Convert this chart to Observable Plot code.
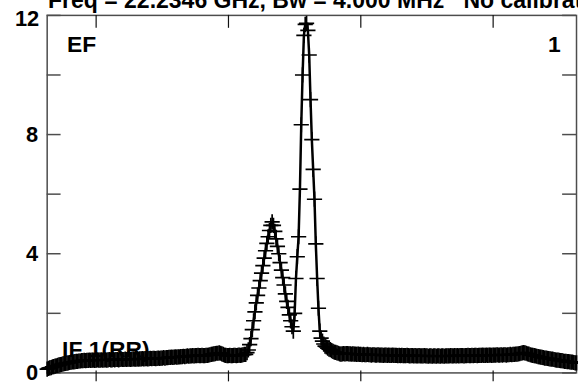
<!DOCTYPE html>
<html><head><meta charset="utf-8">
<script src="https://cdn.jsdelivr.net/npm/d3@7"></script>
<script src="https://cdn.jsdelivr.net/npm/@observablehq/plot@0.6"></script>
<style>
html,body{margin:0;padding:0;background:#fff;overflow:hidden;width:578px;height:384px;}
#wrap{position:relative;width:578px;height:384px;overflow:hidden;}
#chart{position:absolute;left:0;top:0;}
#title{position:absolute;left:48px;top:-11px;font:bold 23px "Liberation Sans",Arial,sans-serif;line-height:23px;white-space:pre;color:#000;}
</style></head><body>
<div id="wrap"><div id="chart"></div><div id="title"></div></div>
<script>
// ---- data ----
const titleText = "Freq = 22.2346 GHz, Bw = 4.000 MHz   No calibration";
const antennaLabel = "EF";
const panelLabel = "1";
const ifLabel = "IF 1(RR)";
const firstChannel = 63;
const lastChannel = 463;
const amplitude = [
  0.13,0.15,0.17,0.18,0.2,0.21,0.23,0.24,0.25,0.27,
  0.28,0.29,0.3,0.31,0.32,0.33,0.34,0.35,0.36,0.37,
  0.37,0.38,0.39,0.39,0.4,0.4,0.41,0.41,0.42,0.41,
  0.42,0.42,0.43,0.42,0.43,0.43,0.42,0.43,0.44,0.43,
  0.43,0.44,0.43,0.44,0.44,0.43,0.44,0.45,0.44,0.44,
  0.45,0.44,0.45,0.45,0.44,0.45,0.46,0.45,0.45,0.46,
  0.45,0.46,0.46,0.45,0.46,0.47,0.46,0.46,0.47,0.46,
  0.47,0.47,0.48,0.47,0.48,0.48,0.47,0.48,0.49,0.48,
  0.49,0.49,0.48,0.49,0.5,0.49,0.5,0.5,0.51,0.5,
  0.51,0.51,0.52,0.52,0.53,0.52,0.53,0.54,0.53,0.54,
  0.54,0.55,0.55,0.56,0.55,0.56,0.57,0.56,0.57,0.57,
  0.58,0.57,0.58,0.58,0.59,0.58,0.58,0.59,0.58,0.58,
  0.59,0.59,0.6,0.61,0.62,0.63,0.64,0.65,0.66,0.66,
  0.67,0.66,0.64,0.62,0.6,0.59,0.58,0.58,0.59,0.58,
  0.58,0.59,0.59,0.58,0.59,0.6,0.59,0.6,0.61,
  0.62,0.62,0.68,0.77,0.95,1.15,1.45,1.75,2.05,2.35,
  2.6,2.85,3.1,3.35,3.6,3.85,4.1,4.35,4.57,4.78,
  4.95,5.07,4.95,4.75,4.5,4.25,4.0,3.7,3.45,3.2,
  2.95,2.65,2.4,2.2,1.95,1.75,1.55,1.4,2.0,3.17,
  3.9,4.57,6.17,8.33,10.0,11.33,11.7,11.73,11.5,10.67,
  9.17,7.83,6.83,5.83,4.33,3.17,2.17,1.4,1.17,1.07,
  0.97,0.9,0.87,0.83,0.8,0.78,0.75,0.72,0.7,0.69,
  0.67,0.66,0.64,0.63,
  0.64,0.65,0.64,0.65,0.65,0.64,0.64,0.63,0.64,0.63,
  0.63,0.62,0.63,0.62,0.62,0.61,0.62,0.61,0.61,0.62,
  0.61,0.61,0.6,0.61,0.61,0.6,0.6,0.61,0.6,0.6,
  0.6,0.59,0.6,0.6,0.59,0.6,0.59,0.59,0.6,0.59,
  0.59,0.59,0.58,0.59,0.58,0.59,0.58,0.58,0.58,0.59,
  0.58,0.57,0.58,0.58,0.57,0.58,0.57,0.57,0.58,0.57,
  0.57,0.57,0.58,0.57,0.57,0.56,0.57,0.57,0.56,0.57,
  0.57,0.56,0.57,0.57,0.56,0.57,0.57,0.56,0.57,0.57,
  0.57,0.57,0.58,0.57,0.57,0.58,0.57,0.58,0.57,0.58,
  0.58,0.58,0.57,0.58,0.58,0.59,0.58,0.58,0.59,0.58,
  0.59,0.59,0.58,0.59,0.59,0.59,0.6,0.59,0.59,0.6,
  0.59,0.6,0.6,0.59,0.6,0.6,0.6,0.61,0.6,0.6,
  0.61,0.6,0.61,0.61,0.6,0.61,0.61,0.62,0.61,0.62,
  0.62,0.63,0.63,0.64,0.65,0.66,0.67,0.68,0.67,0.66,
  0.64,0.63,0.61,0.6,0.59,0.58,0.57,0.56,0.55,0.54,
  0.53,0.52,0.51,0.5,0.5,0.49,0.48,0.47,0.46,0.46,
  0.45,0.44,0.43,0.43,0.42,0.41,0.41,0.4,0.39,0.39,
  0.38,0.38,0.37,0.36,0.36,0.35,0.34,0.34
];
const yTicks = [0, 2, 4, 6, 8, 10, 12];
const yLabels = [0, 4, 8];
const yTopLabel = [12];
const xTicks = [100, 200, 300, 400];

// ---- chart ----
const spectrum = amplitude.map((v, i) => ({channel: firstChannel + i, amp: v}));
const W = 582, H = 384, mL = 47, mR = 2, mT = 15, mB = 9;
const innerW = W - mL - mR, innerH = H - mT - mB;
const axisColor = "#4d4d4d";
const font = {fontSize: 22, fontWeight: "bold", fill: "#000"};
const labelFont = {fontSize: 23, fontWeight: "bold", fill: "#000"};

document.getElementById("title").textContent = titleText;

const chart = Plot.plot({
  width: W, height: H,
  marginLeft: mL, marginRight: mR, marginTop: mT, marginBottom: mB,
  x: {domain: [firstChannel, lastChannel], axis: null},
  y: {domain: [0, 12], axis: null},
  style: {fontFamily: "'Liberation Sans', Arial, sans-serif", background: "#fff", overflow: "visible"},
  marks: [
    Plot.frame({stroke: axisColor, strokeWidth: 1.5}),
    Plot.tickY(yTicks, {y: d => d, insetRight: innerW - 14, stroke: axisColor, strokeWidth: 1.5}),
    Plot.tickY(yTicks, {y: d => d, insetLeft: innerW - 14, stroke: axisColor, strokeWidth: 1.5}),
    Plot.tickX(xTicks, {x: d => d, insetBottom: innerH - 13, stroke: "#111", strokeWidth: 1.2}),
    Plot.tickX(xTicks, {x: d => d, insetTop: innerH - 2, insetBottom: -9, stroke: "#111", strokeWidth: 1.2}),
    Plot.text(yLabels, {y: d => d, text: d => String(d), frameAnchor: "left", dx: -9, textAnchor: "end", lineAnchor: "middle", ...font}),
    Plot.text(yTopLabel, {y: d => d, text: d => String(d), frameAnchor: "left", dx: -8, dy: 4, textAnchor: "end", lineAnchor: "middle", ...font}),
    Plot.text([antennaLabel], {text: d => d, frameAnchor: "top-left", dx: 20, dy: 37, textAnchor: "start", lineAnchor: "bottom", ...labelFont}),
    Plot.text([panelLabel], {text: d => d, frameAnchor: "top-right", dx: -16, dy: 37, textAnchor: "end", lineAnchor: "bottom", ...labelFont}),
    Plot.text([ifLabel], {text: d => d, frameAnchor: "bottom-left", dx: 15, dy: -16, textAnchor: "start", lineAnchor: "bottom", ...labelFont}),
    Plot.line(spectrum, {x: "channel", y: "amp", stroke: "#000", strokeWidth: 2.5}),
    Plot.dot(spectrum, {x: "channel", y: "amp", symbol: "plus", r: 5, stroke: "#000", strokeWidth: 1.7})
  ]
});
document.getElementById("chart").appendChild(chart);
</script>
</body></html>
